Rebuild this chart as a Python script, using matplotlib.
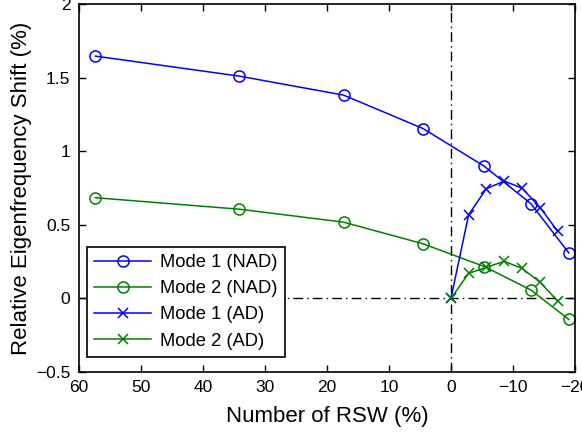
"""
Relative eigenfrequency shift vs number of RSW, NAD and AD modes.
"""

import matplotlib
matplotlib.use("Agg")
import matplotlib.pyplot as plt

plt.rcParams["font.family"] = ["Liberation Sans", "DejaVu Sans"]

# NAD series (circles)
nad_x = [57.3, 34.1, 17.3, 4.5, -5.4, -12.9, -19.0]
mode1_nad = [1.646, 1.510, 1.381, 1.154, 0.897, 0.643, 0.309]
mode2_nad = [0.684, 0.606, 0.518, 0.371, 0.216, 0.057, -0.143]

# AD series (crosses)
ad_x = [0.0, -2.85, -5.7, -8.6, -11.45, -14.4, -17.2]
mode1_ad = [0.0, 0.568, 0.745, 0.797, 0.749, 0.616, 0.456]
mode2_ad = [0.0, 0.170, 0.211, 0.252, 0.204, 0.109, -0.018]

x_ticks = [60, 50, 40, 30, 20, 10, 0, -10, -20]
x_tick_labels = ["60", "50", "40", "30", "20", "10", "0", "\u221210", "\u221220"]
y_ticks = [-0.5, 0, 0.5, 1, 1.5, 2]
y_tick_labels = ["\u22120.5", "0", "0.5", "1", "1.5", "2"]

BLUE = (0, 0, 1)
GREEN = (0, 0.5, 0)


def main():
    fig = plt.figure(figsize=(5.82, 4.36), dpi=100)
    ax = fig.add_axes([0.1352, 0.1468, 0.8528, 0.844])

    ax.plot(nad_x, mode1_nad, color=BLUE, marker="o", markersize=8,
            markerfacecolor="none", markeredgewidth=1.1, linewidth=1.1,
            label="Mode 1 (NAD)")
    ax.plot(nad_x, mode2_nad, color=GREEN, marker="o", markersize=8,
            markerfacecolor="none", markeredgewidth=1.1, linewidth=1.1,
            label="Mode 2 (NAD)")
    ax.plot(ad_x, mode1_ad, color=BLUE, marker="x", markersize=7,
            markeredgewidth=1.1, linewidth=1.1, label="Mode 1 (AD)")
    ax.plot(ad_x, mode2_ad, color=GREEN, marker="x", markersize=7,
            markeredgewidth=1.1, linewidth=1.1, label="Mode 2 (AD)")

    # reference lines through the origin
    ax.axvline(0, color="black", linewidth=1.0, dashes=(7, 3, 1, 3), zorder=1)
    ax.axhline(0, color="black", linewidth=1.0, dashes=(7, 3, 1, 3), zorder=1)

    ax.set_xlim(60, -20)
    ax.set_ylim(-0.5, 2)
    ax.set_xticks(x_ticks)
    ax.set_xticklabels(x_tick_labels)
    ax.set_yticks(y_ticks)
    ax.set_yticklabels(y_tick_labels)

    ax.tick_params(direction="in", length=5, width=1, labelsize=12.5,
                   top=True, right=True, pad=6)
    for spine in ax.spines.values():
        spine.set_linewidth(1.2)

    ax.set_xlabel("Number of RSW (%)", fontsize=16, labelpad=8)
    ax.set_ylabel("Relative Eigenfrequency Shift (%)", fontsize=16, labelpad=3)

    leg = ax.legend(loc="lower left", bbox_to_anchor=(0.017, 0.041),
                    borderaxespad=0, fontsize=13.2, fancybox=False,
                    handlelength=3.1, handletextpad=0.5, labelspacing=0.5,
                    borderpad=0.4, framealpha=1)
    leg.get_frame().set_edgecolor("black")
    leg.get_frame().set_linewidth(1.2)

    fig.savefig("out.png", dpi=100)
    plt.close(fig)


if __name__ == "__main__":
    main()
